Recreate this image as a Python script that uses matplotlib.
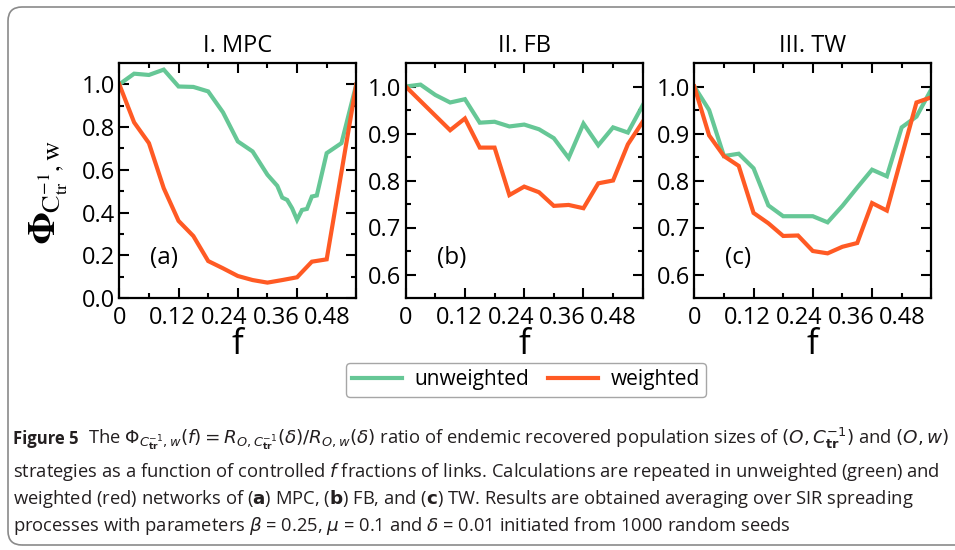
import numpy as np
import matplotlib
matplotlib.use('Agg')
import matplotlib.pyplot as plt
from matplotlib.patches import FancyBboxPatch
from matplotlib.transforms import IdentityTransform

# fraction of controlled links f and Phi values
F_GRID = [0, 0.03, 0.06, 0.09, 0.12, 0.15, 0.18, 0.21, 0.24, 0.27, 0.30,
          0.33, 0.36, 0.39, 0.42, 0.45, 0.48]

MPC_F_UNW = [0, 0.03, 0.06, 0.09, 0.12, 0.15, 0.18, 0.21, 0.24, 0.27, 0.30,
             0.32, 0.33, 0.34, 0.35, 0.36, 0.37, 0.38, 0.39, 0.40, 0.42, 0.45, 0.48]
MPC_UNW = [1.0, 1.05, 1.044, 1.069, 0.99, 0.988, 0.967, 0.869, 0.733, 0.686, 0.577,
           0.525, 0.47, 0.459, 0.42, 0.366, 0.412, 0.417, 0.475, 0.48, 0.678, 0.725, 1.0]
MPC_F_W = [0, 0.03, 0.06, 0.09, 0.12, 0.15, 0.18, 0.21, 0.24, 0.27, 0.30,
           0.33, 0.36, 0.39, 0.42, 0.48]
MPC_W = [1.0, 0.822, 0.725, 0.514, 0.361, 0.29, 0.173, 0.139, 0.103, 0.084, 0.072,
         0.084, 0.097, 0.170, 0.181, 1.0]

FB_UNW = [1.0, 1.004, 0.982, 0.966, 0.973, 0.923, 0.925, 0.915, 0.919, 0.909, 0.890,
          0.848, 0.921, 0.875, 0.913, 0.902, 0.960]
FB_F_W = [0, 0.09, 0.12, 0.15, 0.18, 0.21, 0.24, 0.27, 0.30,
          0.33, 0.36, 0.39, 0.42, 0.45, 0.48]
FB_W = [1.0, 0.907, 0.932, 0.870, 0.870, 0.769, 0.787, 0.775, 0.746,
        0.748, 0.741, 0.794, 0.800, 0.877, 0.925]

TW_UNW = [1.0, 0.95, 0.852, 0.857, 0.826, 0.747, 0.724, 0.724, 0.724, 0.711, 0.746,
          0.785, 0.823, 0.809, 0.913, 0.936, 0.994]
TW_F_W = [0, 0.03, 0.06, 0.09, 0.12, 0.15, 0.18, 0.21, 0.24, 0.27, 0.30,
          0.33, 0.36, 0.39, 0.45, 0.48]
TW_W = [1.0, 0.896, 0.852, 0.831, 0.731, 0.709, 0.682, 0.683, 0.650, 0.645, 0.659,
        0.667, 0.752, 0.736, 0.966, 0.977]

TITLES = ['I. MPC', 'II. FB', 'III. TW']
LETTERS = ['(a)', '(b)', '(c)']
XTICK_LABELS = ['0', '0.12', '0.24', '0.36', '0.48']
# the original figure prints its x labels a bit left of the tick marks
XTICK_LABEL_POS = [0, 0.108, 0.213, 0.317, 0.421]

GREEN = '#66c796'
ORANGE = '#ff5a24'

plt.rcParams['font.family'] = ['Open Sans', 'DejaVu Sans']
plt.rcParams['mathtext.fontset'] = 'dejavusans'

W, H = 955, 550
fig = plt.figure(figsize=(W / 100, H / 100), dpi=100)

# rounded frame around the whole figure + caption
frame = FancyBboxPatch((8, 5), 980, 538, boxstyle='round,pad=0,rounding_size=14',
                       transform=IdentityTransform(), fc='none', ec='#8a8a8a', lw=1.2)
fig.patches.append(frame)

panels = [
    (119.3, [(MPC_F_UNW, MPC_UNW), (MPC_F_W, MPC_W)], (0, 1.1), 0.2),
    (405.7, [(F_GRID, FB_UNW), (FB_F_W, FB_W)], (0.55, 1.05), 0.1),
    (694.3, [(F_GRID, TW_UNW), (TW_F_W, TW_W)], (0.55, 1.05), 0.1),
]

lines = []
for i, (left, series, ylim, ystep) in enumerate(panels):
    ax = fig.add_axes([left / W, (H - 298) / H, 237 / W, 235 / H])
    for (fx, fy), col in zip(series, [GREEN, ORANGE]):
        ln, = ax.plot(fx, fy, color=col, lw=3, solid_joinstyle='miter')
        if i == 0:
            lines.append(ln)
    ax.set_xlim(0, 0.48)
    ax.set_ylim(*ylim)
    ax.set_xticks(np.arange(0, 0.49, 0.12))
    ax.set_xticks(np.arange(0, 0.49, 0.06), minor=True)
    y0 = 0 if ylim[0] == 0 else 0.6
    yt = np.arange(y0, 1.001, ystep)
    ax.set_yticks(yt)
    ax.set_yticklabels([f'{v:.1f}' for v in yt])
    ax.set_yticks(np.arange(y0, ylim[1], ystep / 2), minor=True)
    ax.tick_params(which='both', direction='in', top=True, right=True, width=1.5,
                   labelbottom=False, labelsize=17, pad=3)
    ax.tick_params(which='major', length=7)
    ax.tick_params(which='minor', length=3.5)
    for s in ax.spines.values():
        s.set_linewidth(1.6)

    sec = ax.secondary_xaxis('bottom')
    sec.set_xticks(XTICK_LABEL_POS, XTICK_LABELS)
    sec.tick_params(length=0, labelsize=17, pad=6)
    sec.spines['bottom'].set_visible(False)
    sec.set_xlabel('f', fontsize=25, labelpad=-2)

    ax.set_title(TITLES[i], fontsize=17, pad=8)
    ax.text(0.13, 0.17, LETTERS[i], transform=ax.transAxes, fontsize=17.5, va='center')

fig.text(49 / W, (H - 192) / H, r'$\mathbf{\Phi}_{\mathrm{C}^{-1}_{\mathrm{tr}},\mathrm{w}}$',
         rotation=90, ha='center', va='center', fontsize=27, math_fontfamily='stix')

fig.legend(lines, ['unweighted', 'weighted'], loc='center', ncol=2,
           bbox_to_anchor=(526 / W, (H - 380) / H), fontsize=15, frameon=True,
           fancybox=True, edgecolor='#909090', handlelength=2.4, handletextpad=0.6,
           columnspacing=0.9, borderpad=0.3)

# caption
cap_col = '#231f20'
caption = [
    r'The $\Phi_{C_{\mathbf{tr}}^{-1},w}(f) = R_{O,C_{\mathbf{tr}}^{-1}}(\delta)/R_{O,w}(\delta)$'
    r' ratio of endemic recovered population sizes of $(O,C_{\mathbf{tr}}^{-1})$ and $(O,w)$',
    r'strategies as a function of controlled $f$ fractions of links. Calculations are repeated '
    r'in unweighted (green) and',
    r'weighted (red) networks of ($\mathbf{a}$) MPC, ($\mathbf{b}$) FB, and ($\mathbf{c}$) TW. '
    'Results are obtained averaging over SIR spreading',
    r'processes with parameters $\beta$ = 0.25, $\mu$ = 0.1 and $\delta$ = 0.01 initiated from '
    '1000 random seeds',
]
fig.text(13 / W, (H - 444) / H, 'Figure 5', fontsize=12, fontweight='bold',
         color=cap_col, va='baseline')
texts = [fig.text(88 / W, (H - 444) / H, caption[0], fontsize=11, color=cap_col, va='baseline')]
for k, yb in zip(range(1, 4), [477, 504, 531]):
    texts.append(fig.text(13 / W, (H - yb) / H, caption[k], fontsize=11, color=cap_col,
                          va='baseline'))

# scale caption font so line 2 spans the same width as in the original
r = fig.canvas.get_renderer()
wpx = texts[1].get_window_extent(r).width
scale = 927 / wpx
for t in texts:
    t.set_fontsize(11 * scale)

fig.savefig('out.png', dpi=100)
